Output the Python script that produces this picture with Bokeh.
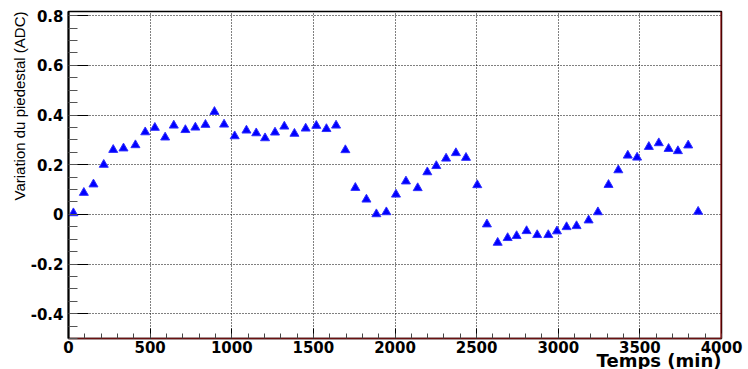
from bokeh.plotting import figure
from bokeh.models import (Range1d, FixedTicker, PrintfTickFormatter, Span, Title,
                          ColumnDataSource)
from bokeh.embed import file_html
from bokeh.resources import INLINE

# ---- data ----
temps_min = [30, 94, 153, 216, 274, 337, 410, 470, 529, 592,
             645, 716, 777, 839, 894, 953, 1018, 1090, 1150, 1204,
             1265, 1322, 1384, 1453, 1518, 1580, 1639, 1696, 1757, 1825,
             1886, 1947, 2006, 2067, 2139, 2198, 2253, 2313, 2373, 2435,
             2504, 2563, 2629, 2690, 2745, 2806, 2871, 2939, 2992, 3051,
             3112, 3186, 3243, 3308, 3368, 3426, 3483, 3555, 3616, 3676,
             3733, 3796, 3857]
variation_adc = [0.005, 0.087, 0.121, 0.200, 0.260, 0.266, 0.279, 0.331, 0.349, 0.310,
                 0.358, 0.340, 0.350, 0.361, 0.413, 0.362, 0.315, 0.338, 0.327, 0.307,
                 0.330, 0.354, 0.325, 0.346, 0.357, 0.344, 0.358, 0.259, 0.107, 0.060,
                 0.001, 0.009, 0.080, 0.133, 0.106, 0.170, 0.195, 0.225, 0.247, 0.228,
                 0.118, -0.040, -0.114, -0.095, -0.087, -0.067, -0.083, -0.083, -0.068, -0.051,
                 -0.047, -0.024, 0.009, 0.119, 0.178, 0.237, 0.229, 0.272, 0.287, 0.264,
                 0.255, 0.278, 0.011]

x_ticks = [0, 500, 1000, 1500, 2000, 2500, 3000, 3500, 4000]
x_minor = [v for v in range(0, 4001, 100)]
y_ticks = [-0.4, -0.2, 0, 0.2, 0.4, 0.6, 0.8]
y_minor = [round(-0.5 + 0.05 * i, 2) for i in range(27)]

x_label = "Temps (min)"
y_label = "Variation du piedestal (ADC)"

x_min, x_max = 0, 4000
y_min, y_max = -0.5, 0.817

# ---- figure ----
p = figure(width=748, height=369, output_backend="svg", toolbar_location=None,
           x_range=Range1d(x_min, x_max), y_range=Range1d(y_min, y_max),
           min_border_left=68, min_border_right=27, min_border_top=11,
           min_border_bottom=31)
p.background_fill_color = "white"
p.border_fill_color = "white"
p.outline_line_color = "black"
p.outline_line_width = 1.5

tick_font = "DejaVu Sans"

for ax in p.xaxis:
    ax.ticker = FixedTicker(ticks=x_ticks, minor_ticks=x_minor)
    ax.formatter = PrintfTickFormatter(format="%g")
    ax.major_tick_in = 10
    ax.major_tick_out = 0
    ax.minor_tick_in = 5
    ax.minor_tick_out = 0
    ax.major_tick_line_color = "black"
    ax.minor_tick_line_color = "#444444"
    ax.axis_line_color = "#6a1010"
    ax.axis_line_width = 1.5
    ax.major_label_text_font = tick_font
    ax.major_label_text_font_style = "bold"
    ax.major_label_text_font_size = "15px"
    ax.major_label_text_color = "black"
    ax.major_label_standoff = 2

for ax in p.yaxis:
    ax.ticker = FixedTicker(ticks=y_ticks, minor_ticks=y_minor)
    ax.formatter = PrintfTickFormatter(format="%g")
    ax.major_tick_in = 20
    ax.major_tick_out = 0
    ax.minor_tick_in = 9
    ax.minor_tick_out = 0
    ax.major_tick_line_color = "black"
    ax.minor_tick_line_color = "#555555"
    ax.axis_line_color = "black"
    ax.axis_line_width = 2
    ax.major_label_text_font = tick_font
    ax.major_label_text_font_style = "bold"
    ax.major_label_text_font_size = "15px"
    ax.major_label_text_color = "black"
    ax.major_label_standoff = 5

p.xgrid.ticker = FixedTicker(ticks=x_ticks)
p.ygrid.ticker = FixedTicker(ticks=y_ticks)
for g in (p.xgrid, p.ygrid):
    g.grid_line_color = "black"
    g.grid_line_dash = "1 2"
    g.grid_line_width = 1
    g.grid_line_alpha = 1.0

# red right edge of the frame
p.add_layout(Span(location=x_max, dimension="height", line_color="#a00000",
                  line_width=2))

src = ColumnDataSource(data=dict(t=temps_min, v=variation_adc))
p.scatter("t", "v", source=src, marker="triangle", size=9,
          fill_color="#0000ff", line_color="#3030ff", line_width=1)

# axis titles (ROOT style: aligned to the end of the axis)
xt = Title(text=x_label, align="right", vertical_align="top", text_font=tick_font,
           text_font_style="bold", text_font_size="18px", text_color="black")
try:
    xt.standoff = -12
except Exception:
    xt.standoff = 0
p.add_layout(xt, "below")

yt = Title(text=y_label, align="right", text_font="Liberation Sans",
           text_font_style="normal", text_font_size="15px", text_color="black")
yt.standoff = 0
p.add_layout(yt, "left")

open("out.html", "w").write(file_html(p, INLINE))
